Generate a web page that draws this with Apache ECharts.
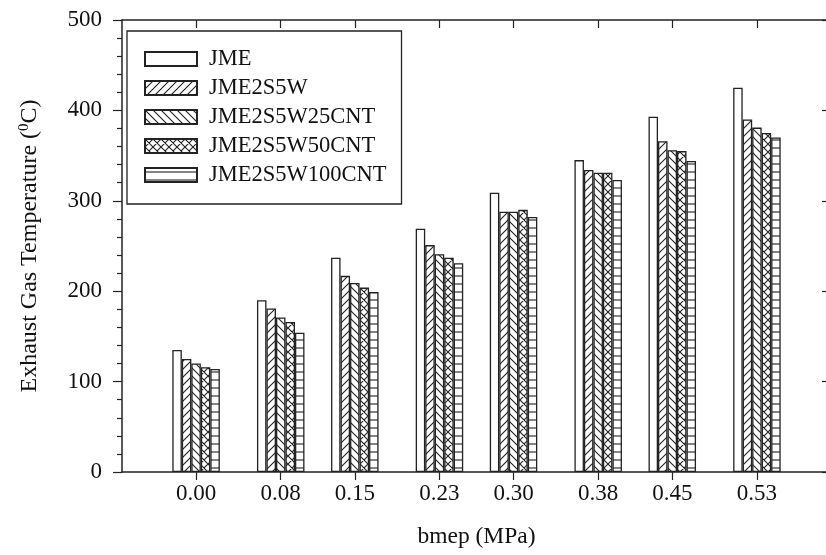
<!DOCTYPE html>
<html>
<head>
<meta charset="utf-8">
<script src="https://cdn.jsdelivr.net/npm/echarts@6/dist/echarts.min.js"></script>
<style>
html,body{margin:0;padding:0;background:#fff;}
#chart{width:826px;height:555px;}
</style>
</head>
<body>
<div id="chart"></div>
<script>
// ---- data ----
const bmepValues = [0.00, 0.08, 0.15, 0.23, 0.30, 0.38, 0.45, 0.53];
const seriesNames = ['JME', 'JME2S5W', 'JME2S5W25CNT', 'JME2S5W50CNT', 'JME2S5W100CNT'];
const JME           = [135, 190, 237, 269, 309, 345, 393, 425];
const JME2S5W       = [125, 181, 217, 251, 288, 334, 366, 390];
const JME2S5W25CNT  = [120, 171, 209, 241, 288, 331, 356, 381];
const JME2S5W50CNT  = [116, 166, 204, 237, 290, 331, 355, 375];
const JME2S5W100CNT = [114, 154, 199, 231, 282, 323, 344, 370];
const yTicks = [0, 100, 200, 300, 400, 500];

const seriesValues = [JME, JME2S5W, JME2S5W25CNT, JME2S5W50CNT, JME2S5W100CNT];
const patternTypes = ['none', 'fwd', 'back', 'cross', 'horiz'];

function makePattern(type) {
  const s = 8;
  const c = document.createElement('canvas');
  c.width = s; c.height = s;
  const g = c.getContext('2d');
  g.fillStyle = '#ffffff';
  g.fillRect(0, 0, s, s);
  g.strokeStyle = '#222222';
  g.lineWidth = 1.1;
  g.beginPath();
  if (type === 'fwd' || type === 'cross') {
    g.moveTo(-1, s + 1); g.lineTo(s + 1, -1);
    g.moveTo(-1, 1); g.lineTo(1, -1);
    g.moveTo(s - 1, s + 1); g.lineTo(s + 1, s - 1);
  }
  if (type === 'back' || type === 'cross') {
    g.moveTo(-1, -1); g.lineTo(s + 1, s + 1);
    g.moveTo(s - 1, -1); g.lineTo(s + 1, 1);
    g.moveTo(-1, s - 1); g.lineTo(1, s + 1);
  }
  if (type === 'horiz') {
    g.moveTo(0, s / 2); g.lineTo(s, s / 2);
  }
  g.stroke();
  if (type === 'none') return '#ffffff';
  return { image: c, repeat: 'repeat' };
}

const FONT = 'Liberation Serif';
const chart = echarts.init(document.getElementById('chart'), null, { renderer: 'canvas' });

const series = seriesNames.map((name, k) => ({
  name: name,
  type: 'bar',
  xAxisIndex: 0,
  yAxisIndex: 0,
  barWidth: 9.5,
  barGap: '0%',
  itemStyle: {
    color: makePattern(patternTypes[k]),
    borderColor: '#222222',
    borderWidth: 1.3
  },
  emphasis: { disabled: true },
  data: bmepValues.map((x, i) => [x, seriesValues[k][i]])
}));

const option = {
  animation: false,
  backgroundColor: '#ffffff',
  textStyle: { fontFamily: FONT },
  grid: { left: 122, top: 20, width: 709, height: 452, containLabel: false, outerBoundsMode: 'none' },
  legend: {
    orient: 'vertical',
    left: 127,
    top: 31,
    padding: [16, 15, 17, 17],
    icon: 'rect',
    itemWidth: 52,
    itemHeight: 14,
    itemGap: 5,
    borderColor: '#222222',
    borderWidth: 1.3,
    backgroundColor: '#ffffff',
    selectedMode: false,
    textStyle: { fontFamily: FONT, fontSize: 22.5, color: '#111', lineHeight: 24, padding: [0, 0, 0, 7] },
    data: seriesNames
  },
  xAxis: [
    {
      type: 'value', position: 'bottom', min: -0.07, max: 0.6,
      name: 'bmep (MPa)', nameLocation: 'middle', nameGap: 53,
      nameTextStyle: { fontFamily: FONT, fontSize: 23.5, color: '#111' },
      axisLine: { show: true, onZero: false, lineStyle: { color: '#222', width: 1.5 } },
      axisTick: { show: true, inside: false, length: 8, customValues: bmepValues, lineStyle: { color: '#222', width: 1.2 } },
      axisLabel: { show: true, customValues: bmepValues, margin: 10, fontFamily: FONT, fontSize: 23, color: '#111',
        formatter: v => v.toFixed(2) },
      splitLine: { show: false }
    },
    {
      type: 'value', position: 'top', min: -0.07, max: 0.6,
      axisLine: { show: true, onZero: false, lineStyle: { color: '#222', width: 1.5 } },
      axisTick: { show: true, inside: true, length: 8, customValues: bmepValues, lineStyle: { color: '#222', width: 1.2 } },
      axisLabel: { show: false },
      splitLine: { show: false }
    }
  ],
  yAxis: [
    {
      type: 'value', position: 'left', min: 0, max: 500, interval: 100,
      name: 'Exhaust Gas Temperature ({sup|0}C)', nameLocation: 'middle', nameGap: 80,
      nameTextStyle: { fontFamily: FONT, fontSize: 24, color: '#111',
        rich: { sup: { fontFamily: FONT, fontSize: 15, color: '#111', verticalAlign: 'top', padding: [0, 0, 10, 0] } } },
      axisLine: { show: true, onZero: false, lineStyle: { color: '#222', width: 1.5 } },
      axisTick: { show: true, inside: false, length: 9, lineStyle: { color: '#222', width: 1.2 } },
      minorTick: { show: true, splitNumber: 5, length: 5, lineStyle: { color: '#222', width: 1.2 } },
      axisLabel: { show: true, margin: 20, fontFamily: FONT, fontSize: 23, color: '#111',
        customValues: yTicks },
      splitLine: { show: false }
    },
    {
      type: 'value', position: 'right', min: 0, max: 500, interval: 100,
      axisLine: { show: true, onZero: false, lineStyle: { color: '#222', width: 1.5 } },
      axisTick: { show: true, inside: true, length: 9, lineStyle: { color: '#222', width: 1.2 } },
      axisLabel: { show: false },
      splitLine: { show: false }
    }
  ],
  series: series
};
chart.setOption(option);
</script>
</body>
</html>
